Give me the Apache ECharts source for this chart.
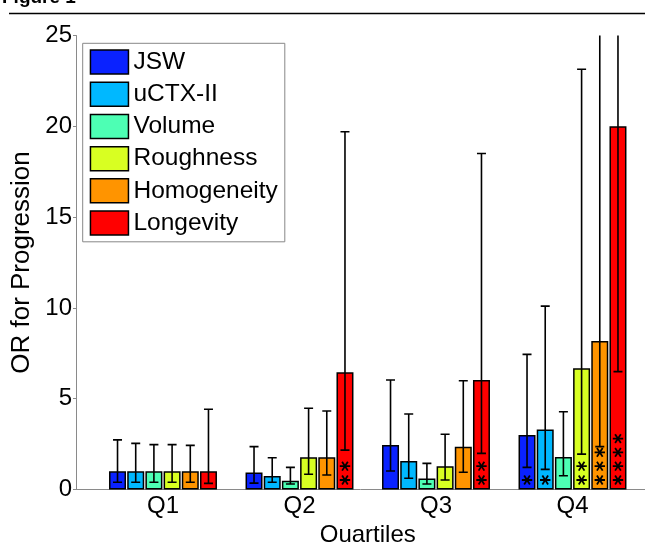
<!DOCTYPE html>
<html>
<head>
<meta charset="utf-8">
<script src="https://cdn.jsdelivr.net/npm/echarts@6/dist/echarts.min.js"></script>
<style>
html,body{margin:0;padding:0;background:#fff;}
#chart{width:645px;height:542px;}
</style>
</head>
<body>
<div id="chart"></div>
<script>
// ---- data ----
var categories = ['Q1', 'Q2', 'Q3', 'Q4'];
var seriesNames = ['JSW', 'uCTX-II', 'Volume', 'Roughness', 'Homogeneity', 'Longevity'];
var yTicks = [0, 5, 10, 15, 20, 25];

var orJSW         = [1.0, 0.93, 2.45, 3.0];
var orUCTX        = [1.0, 0.74, 1.57, 3.31];
var orVolume      = [1.0, 0.48, 0.60, 1.79];
var orRoughness   = [1.0, 1.77, 1.28, 6.67];
var orHomogeneity = [1.0, 1.77, 2.36, 8.18];
var orLongevity   = [1.0, 6.45, 6.03, 20.0];

var loJSW         = [0.40, 0.35, 1.02, 1.22];
var loUCTX        = [0.40, 0.40, 0.62, 1.11];
var loVolume      = [0.40, 0.30, 0.30, 0.76];
var loRoughness   = [0.40, 0.84, 0.52, 1.95];
var loHomogeneity = [0.40, 0.80, 0.95, 2.36];
var loLongevity   = [0.34, 2.17, 1.99, 6.49];

var hiJSW         = [2.73, 2.36, 6.03, 7.44];
var hiUCTX        = [2.54, 1.75, 4.16, 10.1];
var hiVolume      = [2.47, 1.22, 1.44, 4.28];
var hiRoughness   = [2.47, 4.47, 3.04, 23.14];
var hiHomogeneity = [2.43, 4.32, 5.99, 30.0];
var hiLongevity   = [4.42, 19.7, 18.5, 60.0];

var starsJSW         = [0, 0, 0, 1];
var starsUCTX        = [0, 0, 0, 1];
var starsVolume      = [0, 0, 0, 0];
var starsRoughness   = [0, 0, 0, 2];
var starsHomogeneity = [0, 0, 0, 3];
var starsLongevity   = [0, 2, 2, 4];

var colors = ['#0a22ff', '#00b8ff', '#4dffb4', '#d8ff22', '#ff9400', '#ff0000'];

var orAll = [orJSW, orUCTX, orVolume, orRoughness, orHomogeneity, orLongevity];
var loAll = [loJSW, loUCTX, loVolume, loRoughness, loHomogeneity, loLongevity];
var hiAll = [hiJSW, hiUCTX, hiVolume, hiRoughness, hiHomogeneity, hiLongevity];
var starsAll = [starsJSW, starsUCTX, starsVolume, starsRoughness, starsHomogeneity, starsLongevity];

// ---- layout constants ----
var BAR_W = 17;
var BAR_GAP = 0.07;
var STEP = BAR_W * (1 + BAR_GAP);
var CAP = 4.5;
var FONT = '"Liberation Sans", Arial, Helvetica, sans-serif';
var TOP = 35.5, BOTTOM = 52.5;

var chart = echarts.init(document.getElementById('chart'), null, {renderer: 'canvas'});

var series = [];
seriesNames.forEach(function (name, i) {
  series.push({
    name: name,
    type: 'bar',
    xAxisIndex: 1,
    yAxisIndex: 1,
    data: orAll[i],
    barWidth: BAR_W,
    barGap: (BAR_GAP * 100) + '%',
    itemStyle: {color: colors[i], borderColor: '#000', borderWidth: 1.5},
    emphasis: {disabled: true}
  });
});

seriesNames.forEach(function (name, i) {
  var offset = (i - 2.5) * STEP;
  series.push({
    type: 'custom',
    xAxisIndex: 1,
    yAxisIndex: 1,
    clip: true,
    silent: true,
    z: 5,
    data: categories.map(function (c, j) { return [j, loAll[i][j], hiAll[i][j], starsAll[i][j]]; }),
    renderItem: function (params, api) {
      var cat = api.value(0);
      var base = api.coord([cat, 0]);
      var pLo = api.coord([cat, api.value(1)]);
      var pHi = api.coord([cat, api.value(2)]);
      var x = base[0] + offset;
      var st = {stroke: '#000', lineWidth: 1.6};
      var ch = [
        {type: 'line', shape: {x1: x, y1: pLo[1], x2: x, y2: pHi[1]}, style: st},
        {type: 'line', shape: {x1: x - CAP, y1: pLo[1], x2: x + CAP, y2: pLo[1]}, style: st},
        {type: 'line', shape: {x1: x - CAP, y1: pHi[1], x2: x + CAP, y2: pHi[1]}, style: st}
      ];
      var n = api.value(3);
      for (var k = 0; k < n; k++) {
        var cy = base[1] - 9.5 - 13.8 * k;
        var r = 5.2, dx = r * 0.55, dy = r * 0.85;
        var ss = {stroke: '#000', lineWidth: 1.8};
        ch.push({type: 'line', shape: {x1: x - r, y1: cy, x2: x + r, y2: cy}, style: ss});
        ch.push({type: 'line', shape: {x1: x - dx, y1: cy - dy, x2: x + dx, y2: cy + dy}, style: ss});
        ch.push({type: 'line', shape: {x1: x + dx, y1: cy - dy, x2: x - dx, y2: cy + dy}, style: ss});
      }
      return {type: 'group', children: ch};
    }
  });
});

var option = {
  animation: false,
  backgroundColor: '#fff',
  textStyle: {fontFamily: FONT},
  grid: [
    {left: 76, right: 0, top: TOP, bottom: BOTTOM, containLabel: false, outerBoundsMode: 'none'},
    {left: 94.75, right: 4.25, top: TOP, bottom: BOTTOM, containLabel: false, outerBoundsMode: 'none'}
  ],
  xAxis: [
    {
      gridIndex: 0, type: 'value', min: 0, max: 1,
      axisLine: {show: true, lineStyle: {color: '#8a8a8a', width: 1}},
      axisTick: {show: false}, axisLabel: {show: false}, splitLine: {show: false}
    },
    {
      gridIndex: 1, type: 'category', data: categories,
      axisLine: {show: false}, axisTick: {show: false}, splitLine: {show: false},
      axisLabel: {color: '#000', fontSize: 24, fontFamily: FONT, margin: 5},
      name: 'Quartiles', nameLocation: 'middle', nameGap: 31,
      nameTextStyle: {color: '#000', fontSize: 24, fontFamily: FONT}
    }
  ],
  yAxis: [
    {
      gridIndex: 0, type: 'value', min: yTicks[0], max: yTicks[yTicks.length - 1], interval: 5,
      axisLine: {show: true, lineStyle: {color: '#8a8a8a', width: 1}},
      axisTick: {show: true, length: 3, lineStyle: {color: '#8a8a8a'}},
      splitLine: {show: false},
      axisLabel: {color: '#000', fontSize: 24, fontFamily: FONT, margin: 4},
      name: 'OR for Progression', nameLocation: 'middle', nameGap: 40,
      nameTextStyle: {color: '#000', fontSize: 26, fontFamily: FONT}
    },
    {
      gridIndex: 1, type: 'value', min: yTicks[0], max: yTicks[yTicks.length - 1], show: false
    }
  ],
  legend: {
    data: seriesNames,
    orient: 'vertical',
    left: 82.7, top: 43.3,
    padding: [6, 7, 6, 7],
    itemWidth: 38, itemHeight: 24, itemGap: 6.7,
    icon: 'rect',
    backgroundColor: '#fff',
    borderColor: '#888', borderWidth: 1,
    itemStyle: {borderColor: '#000', borderWidth: 1.5},
    textStyle: {color: '#000', fontSize: 24.5, lineHeight: 24, fontFamily: FONT},
    selectedMode: false
  },
  graphic: [
    {type: 'text', left: 2, top: -12, style: {text: 'Figure 1', font: 'bold 19px ' + FONT, fill: '#000'}},
    {type: 'line', shape: {x1: 9, y1: 13.5, x2: 645, y2: 13.5}, style: {stroke: '#000', lineWidth: 1.5}}
  ],
  series: series
};
chart.setOption(option);
</script>
</body>
</html>
